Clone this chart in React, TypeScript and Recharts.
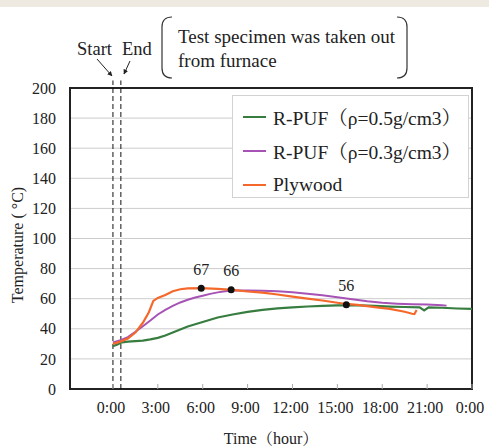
import React from "react";
import {
  ComposedChart,
  Line,
  Scatter,
  XAxis,
  YAxis,
  CartesianGrid,
  ReferenceLine,
  ReferenceArea,
  Legend,
  LabelList,
} from "recharts";

// hours after start / temperature (°C)
const puf05Hours = [0, 0.3, 0.6, 1, 1.5, 2, 2.5, 3, 3.5, 4, 4.5, 5, 5.5, 6, 6.5, 7, 7.5, 8, 9, 10, 11, 12, 13, 14, 15, 15.6, 16.5, 17.5, 18.5, 19.5, 20.5, 20.8, 21.1, 22, 23, 24];
const puf05Temps = [28.5, 29.5, 31, 31.5, 31.8, 32.2, 33, 34, 35.5, 37.5, 39.5, 41.5, 43, 44.5, 46, 47.5, 48.5, 49.5, 51.2, 52.6, 53.6, 54.3, 54.8, 55.2, 55.5, 55.6, 55.5, 55.2, 54.8, 54.5, 54.2, 52.2, 54.3, 54, 53.5, 53.2];

const puf03Hours = [0, 0.5, 1, 1.5, 2, 2.5, 3, 3.5, 4, 4.5, 5, 5.5, 6, 6.5, 7, 7.5, 8, 9, 10, 11, 12, 13, 14, 15, 16, 17, 18, 19, 20, 21, 22, 22.3];
const puf03Temps = [31, 32.5, 34.5, 38, 41.7, 45.5, 49.5, 52.5, 55.2, 57.5, 59.3, 60.8, 62, 63.2, 64.2, 64.9, 65.4, 65.5, 65.3, 64.9, 64.3, 63.3, 62.3, 61, 59.6, 58.3, 57.3, 56.7, 56.3, 56.1, 55.6, 55.4];

const plywoodHours = [0, 0.5, 1, 1.5, 2, 2.4, 2.7, 3, 3.5, 4, 4.5, 5, 5.9, 7, 8, 9, 10, 11, 12, 13, 14, 15, 15.6, 16.5, 17.5, 18.5, 19.5, 20, 20.15, 20.3];
const plywoodTemps = [30, 31.5, 33.5, 37.5, 44, 51, 58.5, 60.5, 62.5, 65, 66.3, 66.8, 67, 66.5, 65.8, 64.8, 64, 62.8, 61.4, 60, 58.8, 57.3, 56.5, 55.7, 54.4, 53.2, 51.3, 50, 49.8, 52.5];

const peakHours = [5.9, 7.9, 15.6];
const peakTemps = [67, 66, 56];

const seriesNames = ["R-PUF（ρ=0.5g/cm3）", "R-PUF（ρ=0.3g/cm3）", "Plywood"];
const seriesColors = ["#367d3f", "#a653b5", "#f4692b"];

const xTicks = [0, 3, 6, 9, 12, 15, 18, 21, 24];
const yTicks = [0, 20, 40, 60, 80, 100, 120, 140, 160, 180, 200];
const furnaceHours = [0, 0.53];

const toPoints = (hours: number[], temps: number[]) =>
  hours.map((h, i) => ({ h, t: temps[i] }));

const puf05 = toPoints(puf05Hours, puf05Temps);
const puf03 = toPoints(puf03Hours, puf03Temps);
const plywood = toPoints(plywoodHours, plywoodTemps);
const peaks = toPoints(peakHours, peakTemps);

const FONT = "'Liberation Serif', 'Noto Serif CJK JP', 'Noto Sans CJK JP', serif";
const X_MIN = -2.87;

const LegendBox = ({ payload }: any) => (
  <div
    style={{
      border: "1px solid #d2d2d2",
      background: "#fff",
      width: 237,
      height: 103,
      paddingTop: 4,
      paddingLeft: 10,
      boxSizing: "border-box",
      fontFamily: FONT,
    }}
  >
    {(payload || [])
      .filter((p: any) => p.type !== "none")
      .sort(
        (a: any, b: any) =>
          seriesNames.indexOf(a.value) - seriesNames.indexOf(b.value)
      )
      .map((p: any) => (
        <div
          key={p.value}
          style={{ display: "flex", alignItems: "center", height: 34 }}
        >
          <svg width={23} height={4}>
            <line x1={0} y1={2} x2={23} y2={2} stroke={p.color} strokeWidth={2} />
          </svg>
          <span style={{ marginLeft: 7, fontSize: 19.5, color: "#222", whiteSpace: "nowrap" }}>
            {p.value}
          </span>
        </div>
      ))}
  </div>
);

const Dot = (props: any) => (
  <circle cx={props.cx} cy={props.cy} r={3.5} fill="#111" />
);

export default function App() {
  return (
    <div
      style={{
        position: "fixed",
        left: 0,
        top: 0,
        width: 489,
        height: 447,
        background: "#fff",
        fontFamily: FONT,
      }}
    >
      <ComposedChart
        width={489}
        height={447}
        margin={{ top: 88, right: 17, bottom: 0, left: 0 }}
        style={{ fontFamily: FONT }}
      >
        <CartesianGrid vertical={false} stroke="#cccccc" />
        <XAxis
          type="number"
          dataKey="h"
          domain={[X_MIN, 24]}
          ticks={xTicks}
          allowDataOverflow
          height={58}
          axisLine={false}
          tickSize={-5}
          tickMargin={18}
          tickLine={{ stroke: "#aaa" }}
          tick={{ fill: "#222", fontSize: 16, dx: -2, fontFamily: FONT }}
          tickFormatter={(h: number) => `${h % 24}:00`}
          label={{
            value: "Time（hour）",
            position: "insideBottom",
            offset: 3,
            fill: "#222",
            fontSize: 16,
            fontFamily: FONT,
          }}
        />
        <YAxis
          type="number"
          domain={[0, 200]}
          ticks={yTicks}
          width={70}
          axisLine={false}
          tickLine={false}
          tickSize={0}
          tickMargin={14}
          tick={{ fill: "#222", fontSize: 16, fontFamily: FONT }}
        />
        <ReferenceArea
          x1={X_MIN}
          x2={24}
          y1={0}
          y2={200}
          fill="none"
          stroke="#222"
          strokeWidth={2}
        />
        {furnaceHours.map((h) => (
          <ReferenceLine
            key={h}
            segment={[
              { x: h, y: 0 },
              { x: h, y: 205 },
            ]}
            ifOverflow="visible"
            stroke="#111"
            strokeDasharray="5 3"
          />
        ))}
        <Line
          data={puf05}
          dataKey="t"
          name={seriesNames[0]}
          stroke={seriesColors[0]}
          strokeWidth={2.2}
          dot={false}
          isAnimationActive={false}
        />
        <Line
          data={puf03}
          dataKey="t"
          name={seriesNames[1]}
          stroke={seriesColors[1]}
          strokeWidth={2}
          dot={false}
          isAnimationActive={false}
        />
        <Line
          data={plywood}
          dataKey="t"
          name={seriesNames[2]}
          stroke={seriesColors[2]}
          strokeWidth={2.2}
          dot={false}
          isAnimationActive={false}
        />
        <Scatter
          data={peaks}
          dataKey="t"
          legendType="none"
          shape={Dot}
          isAnimationActive={false}
        >
          <LabelList
            dataKey="t"
            position="top"
            offset={9}
            fill="#222"
            fontSize={16}
            fontFamily={FONT}
          />
        </Scatter>
        <Legend
          layout="vertical"
          align="center"
          verticalAlign="middle"
          content={<LegendBox />}
          wrapperStyle={{ left: 232, top: 95, width: 237, height: 103 }}
        />
      </ComposedChart>

      <svg
        width={489}
        height={447}
        style={{ position: "absolute", left: 0, top: 0, pointerEvents: "none" }}
        fontFamily={FONT}
      >
        <defs>
          <marker
            id="arrow"
            viewBox="0 0 10 10"
            refX={9}
            refY={5}
            markerWidth={5}
            markerHeight={5}
            orient="auto"
          >
            <path d="M0,0 L10,5 L0,10 z" fill="#222" />
          </marker>
        </defs>
        <rect x={0} y={0} width={489} height={7} fill="#efeae1" />
        <text x={77} y={55} fontSize={18.5} fill="#222">Start</text>
        <text x={122} y={55} fontSize={18.5} fill="#222">End</text>
        <line x1={97} y1={59} x2={112} y2={76} stroke="#222" strokeWidth={1} markerEnd="url(#arrow)" />
        <line x1={130} y1={61} x2={124} y2={74} stroke="#222" strokeWidth={1} markerEnd="url(#arrow)" />
        <path d="M172,17 Q162,17 162,27 L162,68 Q162,78 172,78" fill="none" stroke="#333" strokeWidth={1.2} />
        <path d="M397,17 Q407,17 407,27 L407,68 Q407,78 397,78" fill="none" stroke="#333" strokeWidth={1.2} />
        <text x={178} y={43} fontSize={19} fill="#222">Test specimen was taken out</text>
        <text x={178} y={67} fontSize={19} fill="#222">from furnace</text>
        <text
          transform="translate(23,245) rotate(-90)"
          textAnchor="middle"
          fontSize={16}
          fill="#222"
        >
          Temperature ( °C)
        </text>
      </svg>
    </div>
  );
}
